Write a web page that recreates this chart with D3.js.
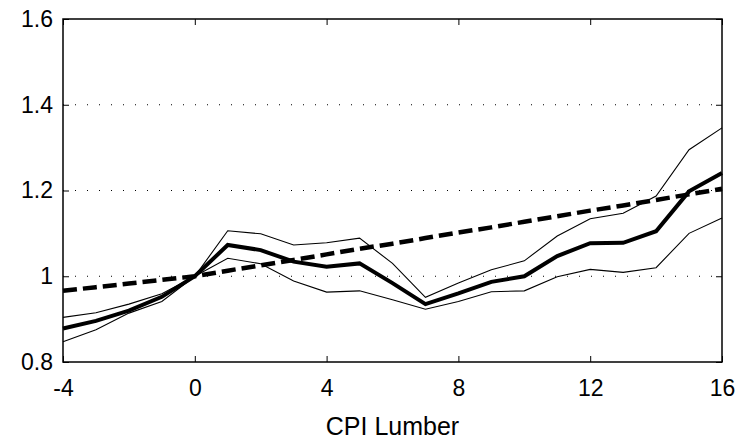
<!DOCTYPE html>
<html>
<head>
<meta charset="utf-8">
<script src="https://cdn.jsdelivr.net/npm/d3@7"></script>
<style>
  html, body { margin: 0; padding: 0; background: #fff; }
  svg text { font-family: "Liberation Sans", Arial, sans-serif; fill: #000; }
</style>
</head>
<body>
<svg id="chart" width="751" height="441"></svg>
<script>
// Horizon (x) values
const horizons = [-4,-3,-2,-1,0,1,2,3,4,5,6,7,8,9,10,11,12,13,14,15,16];
// Central estimate (thick line)
const central = [0.878,0.896,0.920,0.952,1.000,1.073,1.061,1.034,1.022,1.030,0.984,0.935,0.960,0.987,1.000,1.047,1.077,1.078,1.105,1.198,1.241];
// Upper band (thin line)
const upper = [0.904,0.915,0.935,0.959,1.000,1.106,1.099,1.073,1.078,1.089,1.030,0.951,0.984,1.015,1.036,1.094,1.134,1.147,1.187,1.295,1.346];
// Lower band (thin line)
const lower = [0.847,0.875,0.914,0.941,1.000,1.042,1.029,0.989,0.963,0.966,0.945,0.923,0.941,0.964,0.966,0.999,1.016,1.009,1.020,1.100,1.136];
// Dashed reference line
const dashed = [0.966,0.9745,0.983,0.9915,1.000,1.013,1.0255,1.038,1.051,1.064,1.076,1.089,1.102,1.114,1.127,1.140,1.153,1.165,1.178,1.191,1.204];

const xTicks = [-4,0,4,8,12,16];
const yTicks = [0.8,1.0,1.2,1.4,1.6];
const yTickLabels = ["0.8","1","1.2","1.4","1.6"];
const gridValues = [1.0,1.2,1.4];
const xLabel = "CPI Lumber";

(function(){
const svg = d3.select("#chart");
const mL = 63, mR = 722, mT = 19, mB = 362;

const x = d3.scaleLinear().domain([-4,16]).range([mL,mR]);
const y = d3.scaleLinear().domain([0.8,1.6]).range([mB,mT]);

// grid
svg.append("g").selectAll("line").data(gridValues).join("line")
  .attr("x1", mL).attr("x2", mR)
  .attr("y1", d => y(d)).attr("y2", d => y(d))
  .attr("stroke", "#000").attr("stroke-width", 1)
  .attr("stroke-dasharray", "1,11");

// axes
const fmtY = d => yTickLabels[yTicks.findIndex(t => Math.abs(t-d)<1e-9)];
const gx = svg.append("g").attr("transform", `translate(0,${mB})`)
  .call(d3.axisBottom(x).tickValues(xTicks).tickSize(-6).tickPadding(18).tickFormat(d3.format("d")));
const gxTop = svg.append("g").attr("transform", `translate(0,${mT})`)
  .call(d3.axisTop(x).tickValues(xTicks).tickSize(-6).tickFormat(""));
const gy = svg.append("g").attr("transform", `translate(${mL},0)`)
  .call(d3.axisLeft(y).tickValues(yTicks).tickSize(-6).tickPadding(10).tickFormat(fmtY));
const gyR = svg.append("g").attr("transform", `translate(${mR},0)`)
  .call(d3.axisRight(y).tickValues(yTicks).tickSize(-6).tickFormat(""));

[gx,gxTop,gy,gyR].forEach(g => {
  g.select(".domain").remove();
  g.selectAll(".tick line").attr("stroke","#000").attr("stroke-width",1);
  g.selectAll("text").attr("font-size", 23).attr("font-family","Liberation Sans, Arial, sans-serif").attr("fill","#000");
});
gx.selectAll("text").text(d => d < 0 ? "-" + Math.abs(d) : String(d));

// frame
svg.append("rect").attr("x", mL).attr("y", mT)
  .attr("width", mR-mL).attr("height", mB-mT)
  .attr("fill","none").attr("stroke","#000").attr("stroke-width",1.5);

const line = vals => d3.line().x((d,i) => x(horizons[i])).y(d => y(d))(vals);

svg.append("path").attr("d", line(upper)).attr("fill","none").attr("stroke","#000").attr("stroke-width",1.1);
svg.append("path").attr("d", line(lower)).attr("fill","none").attr("stroke","#000").attr("stroke-width",1.1);
svg.append("path").attr("d", line(central)).attr("fill","none").attr("stroke","#000").attr("stroke-width",4);
svg.append("path").attr("d", line(dashed)).attr("fill","none").attr("stroke","#000").attr("stroke-width",4.5)
  .attr("stroke-dasharray","14,6");

svg.append("text").attr("x", (mL+mR)/2).attr("y", 435)
  .attr("text-anchor","middle").attr("font-size",25).text(xLabel);
})();
</script>
</body>
</html>
